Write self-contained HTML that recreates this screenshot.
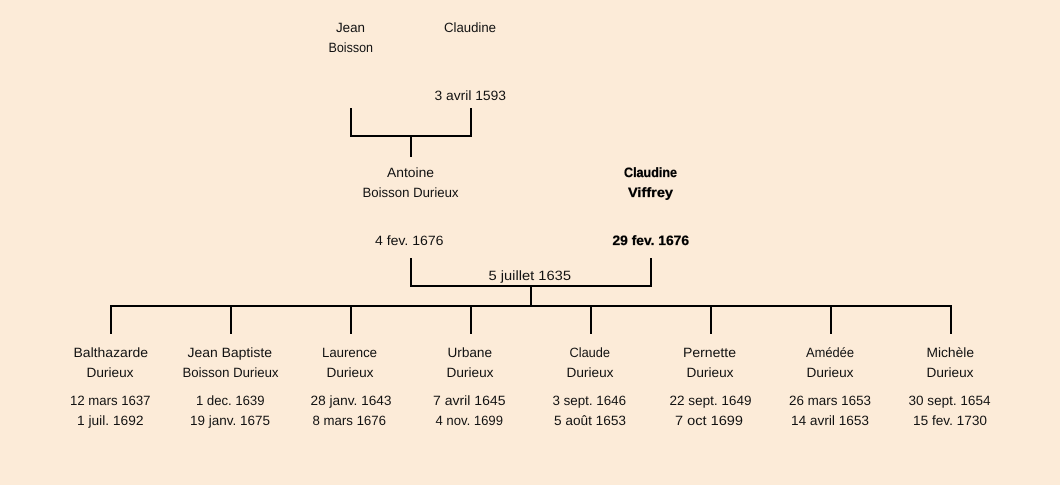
<!DOCTYPE html>
<html lang="fr">
<head>
<meta charset="utf-8">
<title>Durieux</title>
<style>
html,body{margin:0;padding:0;background:#fcebd8;width:1060px;height:485px;overflow:hidden}
svg{display:block}
text{font-family:"Liberation Sans",sans-serif;font-size:13.5px;fill:#111;text-rendering:geometricPrecision}
.b{font-weight:bold;fill:#000;stroke:#000;stroke-width:.3px}
</style>
</head>
<body>
<svg width="1060" height="485" viewBox="0 0 1060 485" xmlns="http://www.w3.org/2000/svg">
<rect width="1060" height="485" fill="#fcebd8"/>
<g fill="none" stroke="#000" stroke-width="2">
<path d="M351 108V136H471V108M411 136V157"/>
<path d="M411 258V286H651V258M531 286V306"/>
<path d="M111 334V306H951V334M231 306V334M351 306V334M471 306V334M591 306V334M711 306V334M831 306V334"/>
</g>
<g>
<text x="336" y="32" textLength="29" lengthAdjust="spacingAndGlyphs">Jean</text>
<text x="328.5" y="52" textLength="44.5" lengthAdjust="spacingAndGlyphs">Boisson</text>
<text x="444" y="32" textLength="52" lengthAdjust="spacingAndGlyphs">Claudine</text>
<text x="434.5" y="100" textLength="71.5" lengthAdjust="spacingAndGlyphs">3 avril 1593</text>
<text x="387" y="177" textLength="47" lengthAdjust="spacingAndGlyphs">Antoine</text>
<text x="362.5" y="197" textLength="96" lengthAdjust="spacingAndGlyphs">Boisson Durieux</text>
<text class="b" x="624" y="177" textLength="53" lengthAdjust="spacingAndGlyphs">Claudine</text>
<text class="b" x="628" y="197" textLength="45" lengthAdjust="spacingAndGlyphs">Viffrey</text>
<text x="375" y="245" textLength="68.5" lengthAdjust="spacingAndGlyphs">4 fev. 1676</text>
<text class="b" x="612.5" y="245" textLength="76.5" lengthAdjust="spacingAndGlyphs">29 fev. 1676</text>
<text x="488.5" y="280" textLength="82.5" lengthAdjust="spacingAndGlyphs">5 juillet 1635</text>

<text x="73.5" y="357" textLength="74.5" lengthAdjust="spacingAndGlyphs">Balthazarde</text>
<text x="86.5" y="377" textLength="47" lengthAdjust="spacingAndGlyphs">Durieux</text>
<text x="70" y="405" textLength="80.5" lengthAdjust="spacingAndGlyphs">12 mars 1637</text>
<text x="77" y="425" textLength="66.5" lengthAdjust="spacingAndGlyphs">1 juil. 1692</text>

<text x="187.5" y="357" textLength="84.5" lengthAdjust="spacingAndGlyphs">Jean Baptiste</text>
<text x="182.5" y="377" textLength="96" lengthAdjust="spacingAndGlyphs">Boisson Durieux</text>
<text x="196" y="405" textLength="68.5" lengthAdjust="spacingAndGlyphs">1 dec. 1639</text>
<text x="190" y="425" textLength="80" lengthAdjust="spacingAndGlyphs">19 janv. 1675</text>

<text x="322" y="357" textLength="55" lengthAdjust="spacingAndGlyphs">Laurence</text>
<text x="326.5" y="377" textLength="47" lengthAdjust="spacingAndGlyphs">Durieux</text>
<text x="310.5" y="405" textLength="81" lengthAdjust="spacingAndGlyphs">28 janv. 1643</text>
<text x="312.5" y="425" textLength="73.5" lengthAdjust="spacingAndGlyphs">8 mars 1676</text>

<text x="447.5" y="357" textLength="44.5" lengthAdjust="spacingAndGlyphs">Urbane</text>
<text x="446.5" y="377" textLength="47" lengthAdjust="spacingAndGlyphs">Durieux</text>
<text x="433" y="405" textLength="72.5" lengthAdjust="spacingAndGlyphs">7 avril 1645</text>
<text x="435.5" y="425" textLength="67.5" lengthAdjust="spacingAndGlyphs">4 nov. 1699</text>

<text x="569.5" y="357" textLength="40.5" lengthAdjust="spacingAndGlyphs">Claude</text>
<text x="566.5" y="377" textLength="47" lengthAdjust="spacingAndGlyphs">Durieux</text>
<text x="552.5" y="405" textLength="73.5" lengthAdjust="spacingAndGlyphs">3 sept. 1646</text>
<text x="554" y="425" textLength="72" lengthAdjust="spacingAndGlyphs">5 août 1653</text>

<text x="683" y="357" textLength="53" lengthAdjust="spacingAndGlyphs">Pernette</text>
<text x="686.5" y="377" textLength="47" lengthAdjust="spacingAndGlyphs">Durieux</text>
<text x="669.5" y="405" textLength="82" lengthAdjust="spacingAndGlyphs">22 sept. 1649</text>
<text x="675" y="425" textLength="68" lengthAdjust="spacingAndGlyphs">7 oct 1699</text>

<text x="806" y="357" textLength="48" lengthAdjust="spacingAndGlyphs">Amédée</text>
<text x="806.5" y="377" textLength="47" lengthAdjust="spacingAndGlyphs">Durieux</text>
<text x="789" y="405" textLength="82" lengthAdjust="spacingAndGlyphs">26 mars 1653</text>
<text x="791" y="425" textLength="78" lengthAdjust="spacingAndGlyphs">14 avril 1653</text>

<text x="926.5" y="357" textLength="47.5" lengthAdjust="spacingAndGlyphs">Michèle</text>
<text x="926.5" y="377" textLength="47" lengthAdjust="spacingAndGlyphs">Durieux</text>
<text x="908.5" y="405" textLength="82" lengthAdjust="spacingAndGlyphs">30 sept. 1654</text>
<text x="913" y="425" textLength="74" lengthAdjust="spacingAndGlyphs">15 fev. 1730</text>
</g>
</svg>
</body>
</html>
